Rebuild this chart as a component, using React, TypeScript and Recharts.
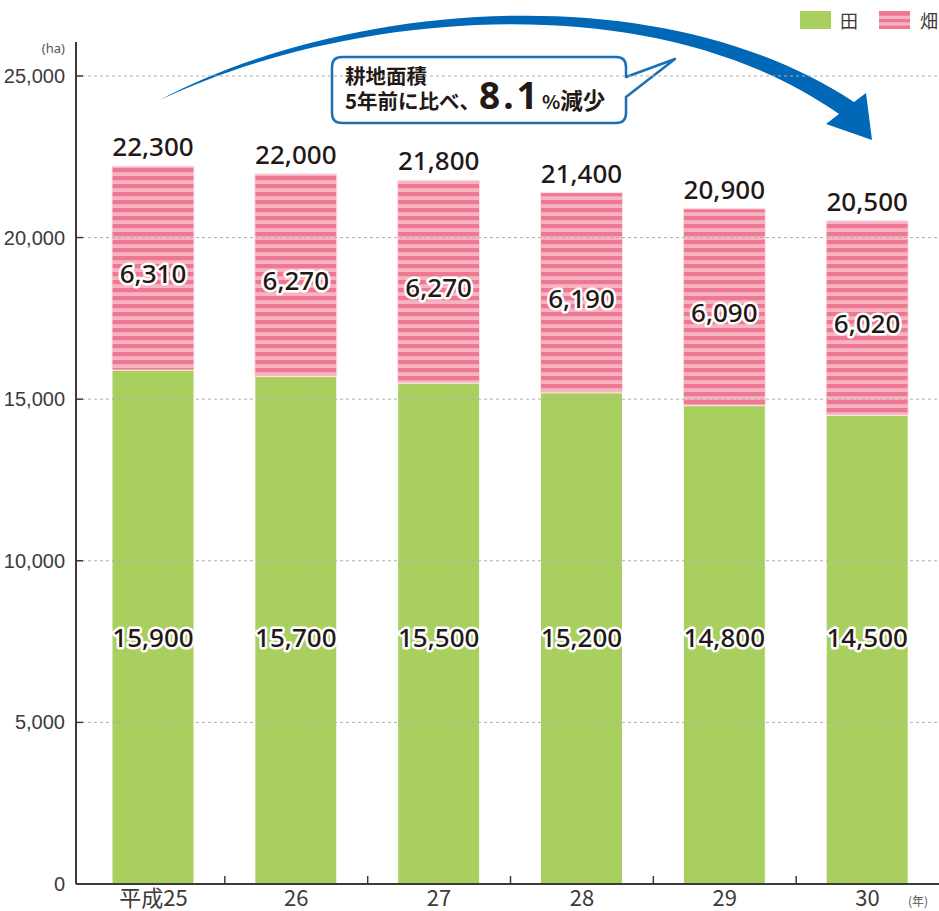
import React from 'react';
import { BarChart, Bar, XAxis, YAxis, ReferenceLine, LabelList, Customized } from 'recharts';

const years = ['平成25', '26', '27', '28', '29', '30'];
const taValues = [15900, 15700, 15500, 15200, 14800, 14500];
const hataValues = [6310, 6270, 6270, 6190, 6090, 6020];
const totalLabels = [22300, 22000, 21800, 21400, 20900, 20500];
const yTicks = [0, 5000, 10000, 15000, 20000, 25000];

const data = years.map((y, i) => ({ year: y, ta: taValues[i], hata: hataValues[i], total: totalLabels[i] }));

const GREEN = '#a9cf5e';
const PINK_DARK = '#ee7892';
const PINK_LIGHT = '#f6b3c1';
const BLUE = '#0068b7';
const AXIS = '#3e3a39';
const TXT = '#231815';
const CHART_W = 939;
const PLOT_LEFT = 82;

const fmt = (v: number) => Number(v).toLocaleString('en-US');

const Halo = ({ x, y, children }: any) => (
  <text
    x={x}
    y={y}
    textAnchor="middle"
    fontSize={26}
    fontFamily="'Noto Sans', 'Open Sans', sans-serif"
    fontWeight={500}
    fill={TXT}
    stroke="#ffffff"
    strokeWidth={5}
    strokeLinejoin="round"
    paintOrder="stroke"
  >
    {children}
  </text>
);

const TaLabel = (p: any) => <Halo x={p.x + p.width / 2} y={p.y + p.height - 237}>{fmt(p.value)}</Halo>;
const HataLabel = (p: any) => <Halo x={p.x + p.width / 2} y={p.y + p.height / 2 + 15}>{fmt(p.value)}</Halo>;
const TotalLabel = (p: any) => <Halo x={p.x + p.width / 2} y={p.y - 10}>{fmt(p.value)}</Halo>;

const YTick = (p: any) => {
  const { x, y, payload } = p;
  return (
    <g>
      <line x1={x} x2={x + 7} y1={y} y2={y} stroke={AXIS} strokeWidth={1.5} />
      <text
        x={x - 11}
        y={y + 7}
        textAnchor="end"
        fontSize={20}
        fontFamily="'Liberation Sans Narrow', 'Liberation Sans', sans-serif"
        fill={AXIS}
      >
        {fmt(payload.value)}
      </text>
    </g>
  );
};

const XTick = (p: any) => {
  const { x, y, payload, index } = p;
  const half = (CHART_W - PLOT_LEFT) / years.length / 2;
  return (
    <g>
      {index < years.length - 1 && (
        <line x1={x + half} x2={x + half} y1={y} y2={y - 8} stroke={AXIS} strokeWidth={1.5} />
      )}
      <text
        x={x}
        y={y + 22}
        textAnchor="middle"
        fontSize={22}
        fontFamily="'Liberation Sans Narrow', 'Noto Sans CJK JP', sans-serif"
        fill={AXIS}
      >
        {payload.value}
      </text>
    </g>
  );
};

const JP = "'Noto Sans CJK JP', sans-serif";

const Overlay = () => (
  <g>
    {/* unit labels */}
    <text x={65} y={53} textAnchor="end" fontSize={13} fontFamily="'Noto Sans', sans-serif" fill="#555">(ha)</text>
    <text x={918} y={906} textAnchor="middle" fontSize={12} fontFamily={JP} fill="#555">(年)</text>

    {/* legend */}
    <rect x={800} y={11} width={31} height={18} fill={GREEN} />
    <text x={840} y={28} fontSize={18} fontFamily={JP} fill={AXIS}>田</text>
    <rect x={879} y={11} width={31} height={18} fill={PINK_DARK} />
    <rect x={879} y={15.7} width={31} height={3.3} fill={PINK_LIGHT} />
    <rect x={879} y={22.3} width={31} height={3.3} fill={PINK_LIGHT} />
    <text x={920} y={28} fontSize={18} fontFamily={JP} fill={AXIS}>畑</text>

    {/* curved arrow */}
    <path
      d="M160,100 C330,8 650,-32 854,102 L866,93 L872,140 L826,124 L839,114 C645,-22 335,16 160,100 Z"
      fill={BLUE}
    />

    {/* callout */}
    <path
      d="M342,57 H616 Q626,57 626,67 V77 L675,59 L626,97 V113 Q626,123 616,123 H342 Q332,123 332,113 V67 Q332,57 342,57 Z"
      fill="#ffffff"
      stroke="#1a6fb5"
      strokeWidth={2.5}
      strokeLinejoin="round"
    />
    <text x={345} y={84} fontSize={20.5} fontWeight={700} fontFamily={JP} fill={TXT}>耕地面積</text>
    <text x={345} y={109} fontSize={20.5} fontWeight={700} fontFamily={JP} fill={TXT}>5年前に比べ、</text>
    <text x={479} y={109} fontSize={37} fontWeight={700} fontFamily="'Noto Sans', sans-serif" letterSpacing={3} fill={TXT}>8.1</text>
    <text x={542} y={109} fontWeight={700} fontFamily={JP} fill={TXT}>
      <tspan fontSize={19}>%</tspan>
      <tspan fontSize={22.5}>減少</tspan>
    </text>
  </g>
);

export default function App() {
  return (
    <div style={{ position: 'absolute', left: 0, top: 0, width: CHART_W, height: 911, background: '#fff' }}>
      <BarChart
        width={CHART_W}
        height={911}
        data={data}
        margin={{ top: 42, right: 0, bottom: 0, left: 0 }}
        barSize={82}
      >
        <defs>
          <pattern id="hataStripe" patternUnits="userSpaceOnUse" width={8} height={8}>
            <rect x={0} y={0} width={8} height={8} fill={PINK_LIGHT} />
            <rect x={0} y={0} width={8} height={4.2} fill={PINK_DARK} />
          </pattern>
        </defs>
        {yTicks.slice(1).map((t) => (
          <ReferenceLine key={t} y={t} stroke="#b0b0b0" strokeDasharray="3 3" strokeWidth={1} />
        ))}
        <XAxis
          dataKey="year"
          height={27}
          padding={{ left: PLOT_LEFT - 76, right: 0 }}
          axisLine={{ stroke: AXIS, strokeWidth: 2 }}
          tickLine={false}
          tickSize={0}
          tickMargin={0}
          tick={<XTick />}
          interval={0}
        />
        <YAxis
          width={76}
          domain={[0, 26050]}
          ticks={yTicks}
          axisLine={{ stroke: AXIS, strokeWidth: 2 }}
          tickLine={false}
          tickSize={0}
          tickMargin={0}
          tick={<YTick />}
          interval={0}
        />
        <Bar dataKey="ta" stackId="a" fill={GREEN} stroke="#ffffff" strokeWidth={1} isAnimationActive={false}>
          <LabelList dataKey="ta" content={<TaLabel />} />
        </Bar>
        <Bar dataKey="hata" stackId="a" fill="url(#hataStripe)" stroke="#fde3e9" strokeWidth={1} isAnimationActive={false}>
          <LabelList dataKey="hata" content={<HataLabel />} />
          <LabelList dataKey="total" content={<TotalLabel />} />
        </Bar>
        <Customized component={<Overlay />} />
      </BarChart>
    </div>
  );
}
